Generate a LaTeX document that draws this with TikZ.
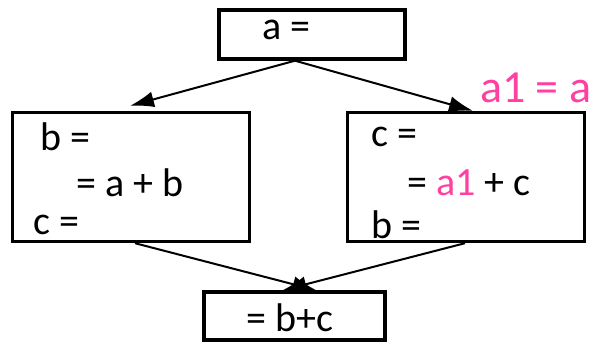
\documentclass[tikz,border=0pt]{standalone}
\usepackage{fontspec}
\setmainfont{Carlito}
\usepackage{xcolor}
\usetikzlibrary{arrows.meta,positioning,calc}

\definecolor{hotpink}{RGB}{255,64,160}

\begin{document}
\begin{tikzpicture}[
  x=1pt, y=-1pt,
  block/.style={rectangle, draw, line width=3.4pt, inner sep=0pt},
  stmt/.style={anchor=west, inner sep=0pt, font=\fontsize{40}{48}\selectfont},
  arrow/.style={-{Latex[length=24pt,width=16pt]}, line width=2pt}
]
  \useasboundingbox (0,0) rectangle (597,347);

  % blocks
  \node[block, minimum width=186pt, minimum height=49pt] (entry) at (312,34.5) {};
  \node[block, minimum width=237pt, minimum height=129pt] (left) at (131,177) {};
  \node[block, minimum width=237pt, minimum height=129pt] (right) at (466,177) {};
  \node[block, minimum width=181pt, minimum height=48pt] (exit) at (294.5,316) {};

  % statements
  \node[stmt] (adef) at (262,30) {a =};

  \node[stmt] (bdef) at (40,137) {b =};
  \node[stmt] (ause) at (76,183) {= a + b};
  \node[stmt] (cdef) at (33,225) {c =};

  \node[stmt] (cdef2) at (371,137) {c =};
  \node[stmt] (ause2) at (407,183) {= \textcolor{hotpink}{a1} + c};
  \node[stmt] (bdef2) at (371,225) {b =};

  \node[stmt] (buse) at (246,318) {= b+c};

  % inserted copy
  \node[stmt, font=\fontsize{46}{54}\selectfont, text=hotpink] (copy) at (480,88) {a1 = a};

  % edges
  \draw[arrow] ($(entry.south)+(-17,0)$) -- ($(left.north)+(-1,-5)$);
  \draw[arrow] ($(entry.south)+(-17,0)$) -- ($(right.north)+(7,0)$);
  \draw[arrow] ($(left.south)+(4,0)$) -- ($(exit.north)+(22,0)$);
  \draw[arrow] ($(right.south)+(-1,0)$) -- ($(exit.north)+(-12,0)$);
\end{tikzpicture}
\end{document}
